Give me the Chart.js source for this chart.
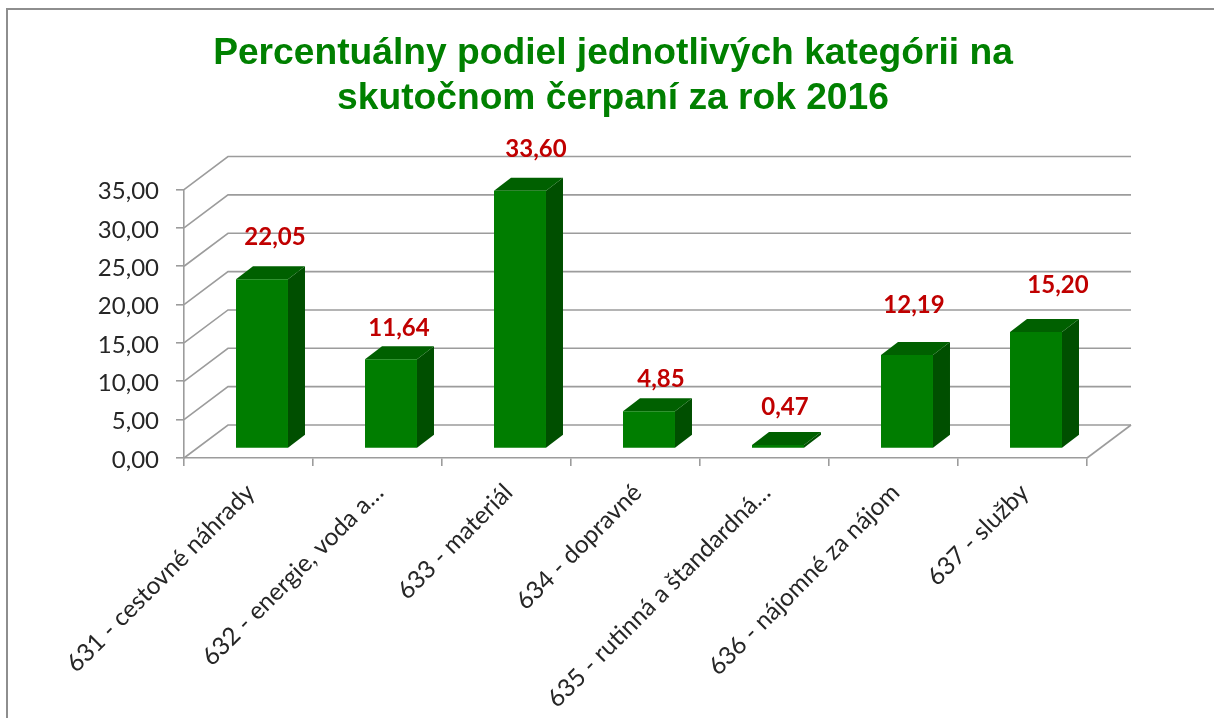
<!DOCTYPE html>
<html><head><meta charset="utf-8">
<style>html,body{margin:0;padding:0;background:#fff}#w{position:relative;width:1214px;height:718px}</style>
<script src="https://cdn.jsdelivr.net/npm/chart.js@4"></script>
</head><body><div id="w"><canvas id="c" width="1214" height="718"></canvas></div>
<script>
const categories = ["631 - cestovné náhrady","632 - energie, voda a…","633 - materiál","634 - dopravné","635 - rutinná a štandardná…","636 - nájomné za nájom","637 - služby"];
const values = [22.05,11.64,33.60,4.85,0.47,12.19,15.20];
const titleLines = ["Percentuálny podiel jednotlivých kategórii na","skutočnom čerpaní za rok 2016"];
const yMax = 35, yStep = 5;

// style constants
const GRID='#9c9c9c', WALL_DX=44, WALL_DY=-33, BAR_DX=13.5, BAR_DY=-9.5, SIDE_DX=17, SIDE_DY=-13;
const labelNudge=[[13,-42],[8,-31],[16,-42],[12,-32],[7,-38],[7,-50],[22,-47]];
const fmt=v=>v.toFixed(2).replace('.',',');

const pseudo3d={
  id:'pseudo3d',
  beforeDraw(chart){
    const c=chart.ctx;c.save();c.strokeStyle='#8e8e8e';c.lineWidth=2;
    c.beginPath();c.moveTo(7,718);c.lineTo(7,9);c.lineTo(1214,9);c.stroke();c.restore();
  },
  beforeDatasetsDraw(chart){
    const c=chart.ctx,y=chart.scales.y,a=chart.chartArea;
    c.save();c.strokeStyle=GRID;c.lineWidth=1.6;
    for(let v=0;v<=yMax;v+=yStep){
      const p=y.getPixelForValue(v);
      c.beginPath();c.moveTo(a.left,p);c.lineTo(a.left+WALL_DX,p+WALL_DY);
      c.lineTo(a.right+WALL_DX,p+WALL_DY);c.stroke();
    }
    const p0=y.getPixelForValue(0);
    c.beginPath();c.moveTo(a.right,p0);c.lineTo(a.right+WALL_DX,p0+WALL_DY);c.stroke();
    c.restore();
    c.save();c.translate(BAR_DX,BAR_DY);
    chart.getDatasetMeta(0).data.forEach(b=>{
      const l=b.x-b.width/2,r=b.x+b.width/2,t=b.y,bo=b.base;
      c.fillStyle='#004f00';c.beginPath();c.moveTo(r,t);c.lineTo(r+SIDE_DX,t+SIDE_DY);c.lineTo(r+SIDE_DX,bo+SIDE_DY);c.lineTo(r,bo);c.closePath();c.fill();
      c.fillStyle='#006000';c.beginPath();c.moveTo(l,t);c.lineTo(l+SIDE_DX,t+SIDE_DY);c.lineTo(r+SIDE_DX,t+SIDE_DY);c.lineTo(r,t);c.closePath();c.fill();
    });
  },
  afterDatasetsDraw(chart){
    const c=chart.ctx;c.restore();
    c.save();c.fillStyle='#c00000';c.font='bold 24px Lato';c.textAlign='center';c.textBaseline='middle';
    chart.getDatasetMeta(0).data.forEach((b,i)=>{
      c.fillText(fmt(values[i]),b.x+BAR_DX+labelNudge[i][0],b.y+BAR_DY+labelNudge[i][1]);
    });
    c.restore();
  }
};

new Chart(document.getElementById('c'),{
  type:'bar',
  data:{labels:categories,datasets:[{data:values,backgroundColor:'#007d00',borderWidth:0,barPercentage:0.403,categoryPercentage:1}]},
  plugins:[pseudo3d],
  options:{
    responsive:false,animation:false,
    layout:{padding:{left:12,right:0,top:0,bottom:0}},
    plugins:{legend:{display:false},tooltip:{enabled:false},
      title:{display:true,text:titleLines,color:'#008000',font:{family:'"Liberation Sans"',size:37.2,weight:'bold',lineHeight:1.19},padding:{top:32,bottom:69}}},
    scales:{
      x:{afterFit(s){s.height=260},
        grid:{drawOnChartArea:false,color:GRID,lineWidth:1.6,tickLength:8},
        border:{color:GRID,width:1.6},
        ticks:{minRotation:45,maxRotation:45,autoSkip:false,color:'#262626',font:{family:'Lato',size:24.5},padding:12,labelOffset:2}},
      y:{min:0,max:yMax,afterFit(s){s.width=172},
        grid:{drawOnChartArea:false,color:GRID,lineWidth:1.6,tickLength:8},
        border:{color:GRID,width:1.6},
        ticks:{stepSize:yStep,color:'#262626',font:{family:'Lato',size:24},padding:17,labelOffset:2,callback:v=>fmt(v)}},
      spacer:{position:'right',min:0,max:1,afterFit(s){s.width=127},
        grid:{display:false},border:{display:false},ticks:{display:false}}
    }
  }
});
</script></body></html>
